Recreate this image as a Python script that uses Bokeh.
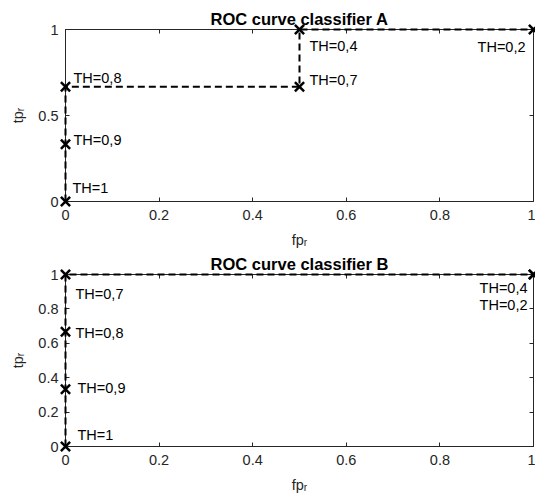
import math
from bokeh.plotting import figure
from bokeh.models import Range1d, FixedTicker, LinearAxis, Label, ColumnDataSource
from bokeh.layouts import column
from bokeh.embed import file_html
from bokeh.resources import INLINE

# ---------------- data ----------------
fpr_A = [0, 0, 0, 0.5, 0.5, 1]
tpr_A = [0, 1/3, 2/3, 2/3, 1, 1]
th_A = ["TH=1", "TH=0,9", "TH=0,8", "TH=0,7", "TH=0,4", "TH=0,2"]

fpr_B = [0, 0, 0, 0, 1, 1]
tpr_B = [0, 1/3, 2/3, 1, 1, 1]
th_B = ["TH=1", "TH=0,9", "TH=0,8", "TH=0,7", "TH=0,4", "TH=0,2"]

title_A = "ROC curve classifier A"
title_B = "ROC curve classifier B"
x_label = "fp\u1d63"
y_label = "tp\u1d63"

x_ticks = [0, 0.2, 0.4, 0.6, 0.8, 1]
x_tick_labels = ["0", "0.2", "0.4", "0.6", "0.8", "1"]
yA_ticks = [0, 0.5, 1]
yA_tick_labels = ["0", "0.5", "1"]
yB_ticks = [0, 0.2, 0.4, 0.6, 0.8, 1]
yB_tick_labels = ["0", "0.2", "0.4", "0.6", "0.8", "1"]

# ---------------- styles / label placement (pixels) ----------------
FONT = "Liberation Sans"
AXC = "#262626"
FS = "14.5px"
SH = 4  # vertical correction for label baseline
# (x_offset, y_offset, align) for each threshold label
place_A = [(7, 10, "left"), (8, 0, "left"), (8, 5, "left"), (10, 3, "left"),
           (10, -20, "left"), (-8, -21, "right")]
place_B = [(12, 8, "left"), (12, -3, "left"), (10, -5, "left"), (10, -23, "left"),
           (-6, -17, "right"), (-6, -34, "right")]


def make_fig(h, top, bottom, fpr, tpr, ths, places, title, yticks, ylabels):
    p = figure(width=535, height=h, x_range=Range1d(0, 1), y_range=Range1d(0, 1),
               output_backend="svg", toolbar_location=None,
               min_border_left=65, min_border_right=2,
               min_border_top=top, min_border_bottom=bottom)
    p.grid.visible = False
    p.background_fill_color = "white"
    p.border_fill_color = "white"
    p.outline_line_color = AXC
    p.outline_line_width = 1

    p.title.text = title
    p.title.align = "center"
    p.title.text_font = FONT
    p.title.text_font_size = "16.5px"
    p.title.text_font_style = "bold"
    p.title.text_color = "black"
    p.title.standoff = 3

    for ax, ticks, labels in ((p.xaxis[0], x_ticks, x_tick_labels),
                              (p.yaxis[0], yticks, ylabels)):
        ax.ticker = FixedTicker(ticks=ticks, minor_ticks=[])
        ax.major_label_overrides = {t: l for t, l in zip(ticks, labels)}
        ax.major_tick_in = 4
        ax.major_tick_out = 0
        ax.minor_tick_line_color = None
        ax.axis_line_color = AXC
        ax.major_tick_line_color = AXC
        ax.major_label_text_font = FONT
        ax.major_label_text_font_size = FS
        ax.major_label_text_color = AXC
        ax.axis_label_text_font = FONT
        ax.axis_label_text_font_size = FS
        ax.axis_label_text_font_style = "normal"
        ax.axis_label_text_color = AXC
    p.xaxis[0].major_label_standoff = 8
    p.yaxis[0].major_label_standoff = 7
    p.xaxis[0].axis_label = x_label
    p.yaxis[0].axis_label = y_label
    p.xaxis[0].axis_label_standoff = 9
    p.yaxis[0].axis_label_standoff = 9

    for loc, ticks in (("above", x_ticks), ("right", yticks)):
        ax = LinearAxis(ticker=FixedTicker(ticks=ticks, minor_ticks=[]),
                        major_label_text_font_size="1px", major_label_text_color=None,
                        major_label_standoff=0,
                        axis_line_color=None, major_tick_in=4, major_tick_out=0,
                        major_tick_line_color=AXC, minor_tick_line_color=None)
        p.add_layout(ax, loc)

    src = ColumnDataSource(dict(x=fpr, y=tpr))
    p.line("x", "y", source=src, line_color="black", line_width=2,
           line_dash="7 4", level="overlay")
    p.scatter("x", "y", source=src, marker="x", size=13, line_color="black",
              line_width=2.5, level="overlay")

    for xv, yv, t, (dx, dy, al) in zip(fpr, tpr, ths, places):
        p.add_layout(Label(x=xv, y=yv, text=t, x_offset=dx, y_offset=dy + SH,
                           text_align=al, text_baseline="alphabetic",
                           text_font=FONT, text_font_size=FS, text_color="black",
                           level="overlay"))
    return p


pA = make_fig(250, 29, 48, fpr_A, tpr_A, th_A, place_A, title_A, yA_ticks, yA_tick_labels)
pB = make_fig(251, 24, 55, fpr_B, tpr_B, th_B, place_B, title_B, yB_ticks, yB_tick_labels)

layout = column(pA, pB, spacing=0)
open("out.html", "w").write(file_html(layout, INLINE))
